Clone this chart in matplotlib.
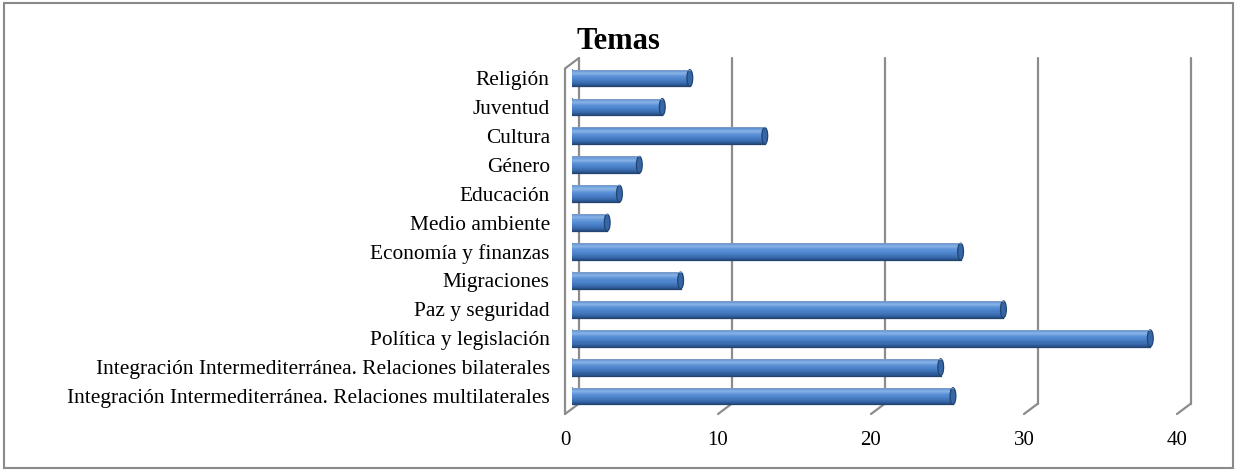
import numpy as np
import matplotlib
matplotlib.use("Agg")
import matplotlib.pyplot as plt
from matplotlib.patches import Ellipse, Rectangle
from matplotlib.transforms import ScaledTranslation
from matplotlib.colors import LinearSegmentedColormap

# Data (bottom to top)
temas = [
    "Integración Intermediterránea. Relaciones multilaterales",
    "Integración Intermediterránea. Relaciones bilaterales",
    "Política y legislación",
    "Paz y seguridad",
    "Migraciones",
    "Economía y finanzas",
    "Medio ambiente",
    "Educación",
    "Género",
    "Cultura",
    "Juventud",
    "Religión",
]
valores = [24.9, 24.1, 37.8, 28.2, 7.1, 25.4, 2.3, 3.1, 4.4, 12.6, 5.9, 7.7]
x_ticks = [0, 10, 20, 30, 40]

plt.rcParams["font.family"] = ["Liberation Serif", "DejaVu Serif"]

fig = plt.figure(figsize=(12.4, 4.72), dpi=100)
ax = fig.add_axes([0.4613, 0.1345, 0.4935, 0.732])
ax.set_xlim(0, 40)
ax.set_ylim(-0.43, 11.52)
for s in ax.spines.values():
    s.set_visible(False)

# 3D depth offsets (back wall / front edge)
back = ax.transData + ScaledTranslation(0.07, 0.05, fig.dpi_scale_trans)
front = ax.transData + ScaledTranslation(-0.07, -0.055, fig.dpi_scale_trans)
grid_c = "#8c8c8c"
y0, y1 = ax.get_ylim()
fig.canvas.draw()


def seg(p, q):
    ax.plot([p[0], q[0]], [p[1], q[1]], color=grid_c, lw=1.6,
            transform=None, zorder=1, clip_on=False,
            solid_capstyle="round")


# left wall
seg(back.transform((0, y0)), back.transform((0, y1)))
seg(front.transform((0, y0)), front.transform((0, y1)))
for yy in (y0, y1):
    seg(front.transform((0, yy)), back.transform((0, yy)))

# gridlines on back wall + floor ticks
for t in x_ticks[1:]:
    seg(back.transform((t, y0)), back.transform((t, y1)))
    seg(front.transform((t, y0)), back.transform((t, y0)))

# cylinder bars
cmap = LinearSegmentedColormap.from_list(
    "cyl", ["#264d85", "#3a6db0", "#4a80c8", "#5a90d6", "#88b2e6", "#5a8ed2"])
ypos = np.arange(len(temas))
h = 0.58
n = 16
for k in range(n):
    frac = (k + 0.5) / n
    ax.barh(ypos - h / 2 + frac * h, valores, height=h / n + 0.002,
            color=cmap(frac), lw=0, zorder=3)
cap_w = 0.38
for y, v in zip(ypos, valores):
    ax.add_patch(Ellipse((0, y), cap_w, h, facecolor="#3e73b8",
                         edgecolor="#2d5a96", lw=0.6, zorder=2))
    ax.add_patch(Ellipse((v, y), cap_w, h, facecolor="#3466a8",
                         edgecolor="#23446f", lw=0.9, zorder=4))
    ax.plot([0, v], [y - h / 2, y - h / 2], color="#23446f", lw=0.9, zorder=4)
    ax.plot([0, v], [y + h / 2, y + h / 2], color="#7f9cc4", lw=0.6, zorder=4)

# ticks
ax.set_yticks(ypos)
ax.set_yticklabels(temas, fontsize=15.4)
ax.set_xticks(x_ticks)
ax.set_xticklabels([str(t) for t in x_ticks], fontsize=15)
ax.tick_params(axis="y", length=0, pad=16)
ax.tick_params(axis="x", length=0, pad=16)
for lab in ax.get_xticklabels():
    lab.set_transform(lab.get_transform()
                      + ScaledTranslation(-0.07, 0, fig.dpi_scale_trans))

fig.text(0.499, 0.896, "Temas", ha="center", va="baseline",
         fontsize=22, fontweight="bold")

fig.patches.append(Rectangle((4 / 1240, 4 / 472), 1229 / 1240, 465 / 472,
                             transform=fig.transFigure, fill=False,
                             edgecolor="#8a8a8a", lw=1.5))

fig.savefig("out.png", dpi=100)
